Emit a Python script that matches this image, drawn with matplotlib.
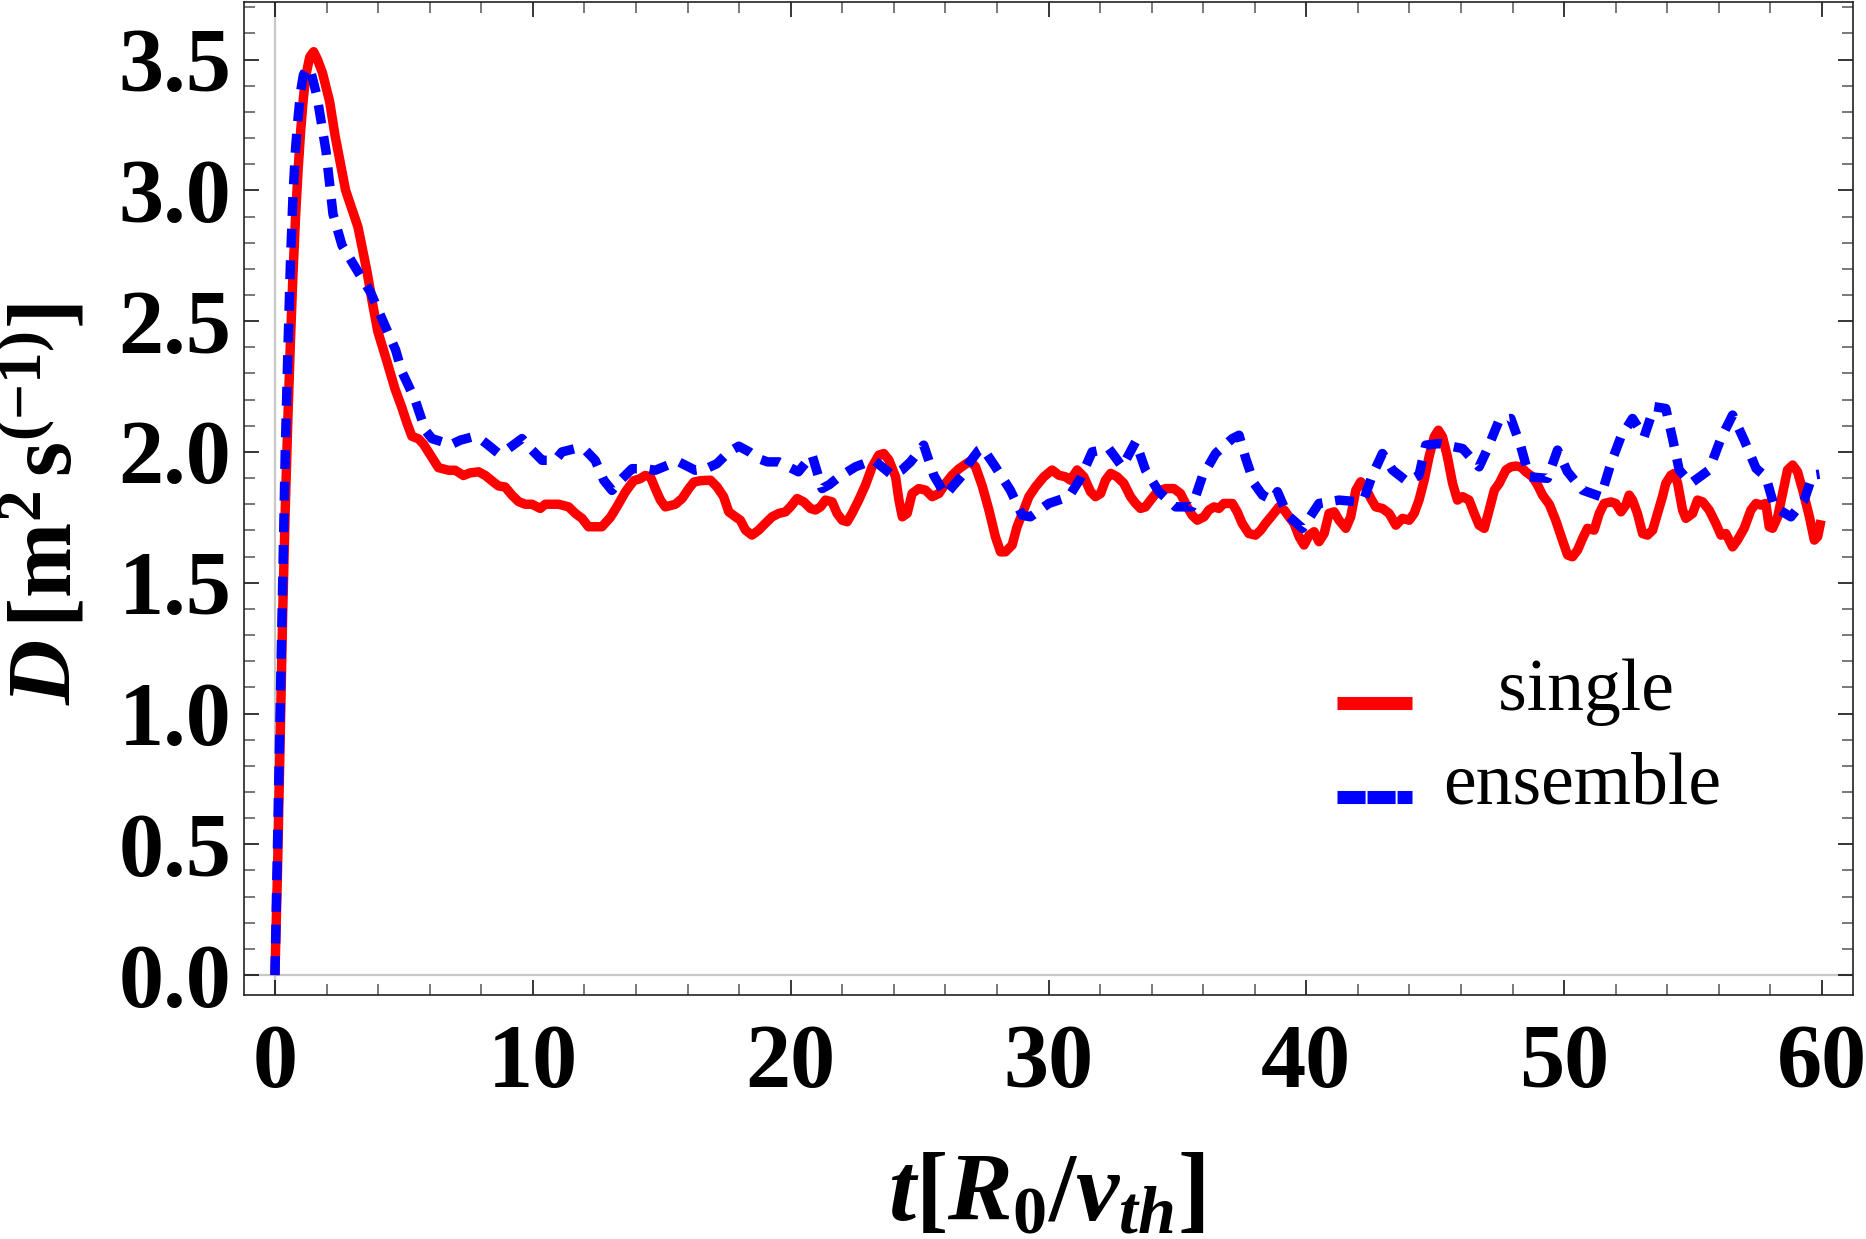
import matplotlib
matplotlib.use("Agg")
import matplotlib.pyplot as plt
from matplotlib.lines import Line2D
from matplotlib.legend_handler import HandlerLine2D
from matplotlib.ticker import MultipleLocator
import numpy as np

plt.rcParams['font.family'] = ['Liberation Serif', 'DejaVu Serif']
plt.rcParams['mathtext.fontset'] = 'custom'
plt.rcParams['mathtext.rm'] = 'Liberation Serif:bold'
plt.rcParams['mathtext.it'] = 'Liberation Serif:italic:bold'
plt.rcParams['mathtext.bf'] = 'Liberation Serif:bold'

# ---------------- data ----------------
t_single = [0.0, 0.1, 0.2, 0.3, 0.4, 0.5, 0.6, 0.7, 0.8, 0.9, 1.0, 1.1, 1.2, 1.35, 1.5, 1.65, 1.84,
            2.12, 2.33, 2.74, 3.22, 3.57, 3.78, 3.99, 4.33, 4.66, 4.92, 5.12, 5.31, 5.57, 5.76, 6.02,
            6.34, 6.73, 6.99, 7.31, 7.57, 7.90, 8.16, 8.41, 8.67, 8.93, 9.19, 9.45, 9.71, 9.97, 10.29,
            10.48, 10.74, 11.0, 11.39, 11.65, 11.91, 12.16, 12.49, 12.68, 13.01, 13.26, 13.59, 13.91,
            14.17, 14.36, 14.56, 14.75, 14.95, 15.14, 15.53, 15.79, 16.05, 16.25, 16.5, 16.89, 17.14,
            17.40, 17.60, 17.86, 18.05, 18.25, 18.50, 18.76, 19.02, 19.28, 19.54, 19.80, 19.99, 20.25,
            20.51, 20.77, 20.96, 21.16, 21.35, 21.61, 21.80, 22.00, 22.19, 22.38, 22.64, 22.90, 23.16,
            23.42, 23.61, 23.81, 24.07, 24.20, 24.33, 24.52, 24.71, 24.97, 25.23, 25.49, 25.75, 26.01,
            26.26, 26.52, 26.78, 26.97, 27.17, 27.43, 27.69, 27.94, 28.14, 28.33, 28.59, 28.78, 29.04,
            29.24, 29.50, 29.82, 30.14, 30.40, 30.66, 30.85, 31.11, 31.37, 31.63, 31.82, 32.02, 32.21,
            32.41, 32.66, 32.92, 33.18, 33.38, 33.57, 33.76, 33.96, 34.22, 34.54, 34.86, 35.12, 35.38,
            35.57, 35.77, 36.03, 36.22, 36.42, 36.61, 36.80, 37.13, 37.32, 37.51, 37.77, 38.03, 38.23,
            38.42, 38.68, 38.94, 39.14, 39.33, 39.52, 39.72, 39.91, 40.11, 40.30, 40.49, 40.69, 40.88,
            41.08, 41.27, 41.53, 41.72, 41.92, 42.11, 42.31, 42.50, 42.69, 42.95, 43.21, 43.47, 43.73,
            43.99, 44.18, 44.37, 44.57, 44.76, 44.96, 45.12, 45.28, 45.47, 45.67, 45.86, 46.06, 46.31,
            46.51, 46.70, 46.90, 47.09, 47.29, 47.48, 47.74, 47.93, 48.13, 48.32, 48.51, 48.77, 48.97,
            49.16, 49.42, 49.67, 49.93, 50.13, 50.32, 50.52, 50.71, 50.90, 51.16, 51.36, 51.55, 51.81,
            52.00, 52.20, 52.39, 52.52, 52.65, 52.84, 53.04, 53.23, 53.43, 53.62, 53.81, 53.94, 54.14,
            54.27, 54.40, 54.59, 54.72, 54.98, 55.17, 55.37, 55.62, 55.88, 56.08, 56.27, 56.53, 56.72,
            56.98, 57.24, 57.44, 57.63, 57.82, 57.95, 58.08, 58.28, 58.47, 58.66, 58.86, 59.05, 59.25,
            59.51, 59.70, 59.83, 59.96]
d_single = [0.0, 0.4, 0.9, 1.38, 1.78, 2.12, 2.42, 2.68, 2.90, 3.08, 3.23, 3.35, 3.44, 3.51, 3.53, 3.50, 3.45,
            3.34, 3.21, 3.00, 2.86, 2.69, 2.57, 2.46, 2.35, 2.24, 2.17, 2.11, 2.06, 2.05, 2.03, 1.99,
            1.94, 1.93, 1.93, 1.91, 1.92, 1.924, 1.91, 1.89, 1.87, 1.866, 1.835, 1.81, 1.80, 1.80, 1.784,
            1.80, 1.80, 1.80, 1.79, 1.765, 1.746, 1.714, 1.714, 1.714, 1.75, 1.79, 1.847, 1.89,
            1.898, 1.91, 1.905, 1.86, 1.816, 1.79, 1.80, 1.822, 1.86, 1.885, 1.89, 1.892, 1.867,
            1.829, 1.771, 1.752, 1.739, 1.701, 1.682, 1.701, 1.727, 1.752, 1.765, 1.771, 1.790, 1.822,
            1.809, 1.784, 1.778, 1.790, 1.816, 1.809, 1.765, 1.739, 1.733, 1.765, 1.816, 1.873, 1.943,
            1.988, 1.994, 1.969, 1.905, 1.816, 1.752, 1.765, 1.841, 1.860, 1.854, 1.829, 1.841, 1.880,
            1.911, 1.935, 1.953, 1.965, 1.943, 1.870, 1.778, 1.676, 1.618, 1.618, 1.644, 1.714, 1.778,
            1.829, 1.867, 1.905, 1.931, 1.911, 1.905, 1.892, 1.931, 1.905, 1.848, 1.829, 1.841, 1.892,
            1.918, 1.905, 1.880, 1.829, 1.803, 1.784, 1.790, 1.816, 1.848, 1.860, 1.860, 1.841, 1.790,
            1.758, 1.739, 1.752, 1.778, 1.790, 1.784, 1.803, 1.803, 1.771, 1.727, 1.688, 1.682, 1.701,
            1.727, 1.758, 1.790, 1.778, 1.752, 1.727, 1.676, 1.644, 1.682, 1.695, 1.657, 1.688, 1.765,
            1.771, 1.739, 1.708, 1.752, 1.854, 1.886, 1.860, 1.822, 1.790, 1.784, 1.765, 1.720, 1.746,
            1.739, 1.765, 1.816, 1.892, 1.982, 2.058, 2.083, 2.058, 1.982, 1.880, 1.816, 1.829, 1.816,
            1.765, 1.720, 1.708, 1.778, 1.854, 1.880, 1.931, 1.943, 1.946, 1.943, 1.924, 1.905, 1.873,
            1.835, 1.800, 1.739, 1.663, 1.606, 1.599, 1.625, 1.669, 1.708, 1.701, 1.765, 1.803, 1.809,
            1.803, 1.771, 1.797, 1.835, 1.816, 1.765, 1.688, 1.682, 1.701, 1.765, 1.829, 1.880, 1.911,
            1.918, 1.880, 1.778, 1.746, 1.765, 1.816, 1.809, 1.778, 1.727, 1.682, 1.688, 1.637, 1.663,
            1.708, 1.778, 1.803, 1.797, 1.803, 1.714, 1.708, 1.752, 1.841, 1.931, 1.950, 1.924, 1.854,
            1.752, 1.663, 1.676, 1.739]

t_ensemble = [0.0, 0.1, 0.2, 0.3, 0.4, 0.5, 0.6, 0.7, 0.8, 0.9, 1.0, 1.1, 1.25, 1.4, 1.63, 1.98, 2.25,
              2.60, 3.09, 3.71, 4.19, 4.68, 4.92, 5.1, 5.44, 5.83, 6.09, 6.47, 6.79, 7.19, 7.64, 8.03,
              8.35, 8.67, 9.06, 9.58, 9.97, 10.36, 10.87, 11.13, 11.65, 12.04, 12.42, 12.75, 13.07,
              13.46, 13.85, 14.36, 14.75, 15.40, 15.66, 16.30, 16.7, 17.14, 17.6, 17.99, 18.4, 18.74,
              19.1, 19.54, 20.3, 20.6, 20.83, 21.22, 21.50, 21.80, 22.51, 23.22, 23.94, 24.3, 24.65,
              25.16, 25.55, 26.0, 26.3, 26.66, 26.91, 27.3, 27.45, 27.94, 28.52, 28.98, 29.30, 30.01,
              30.79, 31.24, 31.69, 32.34, 32.86, 33.38, 33.76, 34.28, 34.93, 35.57, 35.96, 36.48,
              37.13, 37.39, 37.65, 37.97, 38.3, 38.68, 38.88, 39.27, 39.85, 40.49, 41.27, 42.05,
              42.24, 42.56, 42.95, 43.34, 43.92, 44.37, 44.63, 45.15, 45.41, 46.06, 46.70, 47.03,
              47.48, 47.93, 48.32, 48.64, 49.35, 49.74, 50.13, 50.71, 51.42, 51.81, 52.20, 52.65,
              53.10, 53.49, 53.94, 54.20, 54.46, 54.91, 55.62, 56.08, 56.53, 56.98, 57.44, 57.82,
              58.15, 58.79, 59.31, 59.63, 59.9]
d_ensemble = [0.0, 0.5, 1.0, 1.5, 2.0, 2.38, 2.72, 2.98, 3.16, 3.28, 3.38, 3.44, 3.47, 3.45, 3.36, 3.15, 2.91,
              2.79, 2.71, 2.61, 2.50, 2.39, 2.307, 2.27, 2.198, 2.083, 2.051, 2.039, 2.026, 2.045, 2.057, 2.045,
              2.02, 1.994, 2.013, 2.051, 2.007, 1.968, 1.968, 2.0, 2.013, 2.007, 1.968, 1.892, 1.853,
              1.898, 1.936, 1.936, 1.930, 1.956, 1.962, 1.930, 1.935, 1.955, 2.0, 2.022, 2.0, 1.975,
              1.962, 1.962, 1.924, 1.96, 1.988, 1.86, 1.875, 1.899, 1.943, 1.969, 1.911, 1.93, 1.962,
              2.026, 1.911, 1.835, 1.87, 1.911, 1.956, 2.007, 2.015, 1.943, 1.854, 1.758, 1.752, 1.803,
              1.829, 1.899, 2.0, 2.013, 1.943, 2.039, 1.931, 1.848, 1.790, 1.790, 1.905, 1.994,
              2.051, 2.064, 1.975, 1.880, 1.835, 1.816, 1.848, 1.758, 1.708, 1.803, 1.816, 1.809,
              1.822, 1.911, 1.994, 1.931, 1.886, 1.911, 2.026, 2.032, 2.026, 2.013, 1.943, 2.013,
              2.122, 2.128, 2.020, 1.905, 1.899, 2.007, 1.924, 1.854, 1.829, 1.956, 2.058, 2.128,
              2.058, 2.173, 2.166, 2.052, 1.931, 1.880, 1.931, 2.052, 2.141, 2.045, 1.937, 1.905,
              1.790, 1.752, 1.816, 1.911, 1.915]

x_major = [0, 10, 20, 30, 40, 50, 60]
y_major = [0.0, 0.5, 1.0, 1.5, 2.0, 2.5, 3.0, 3.5]
labels = ["single", "ensemble"]


class LoweredLine(HandlerLine2D):
    """Legend key drawn a little below the label's centre line (as in the original)."""
    def __init__(self, shift=14, **kw):
        super().__init__(**kw)
        self.shift = shift

    def create_artists(self, legend, orig_handle, xdescent, ydescent, width, height,
                       fontsize, trans):
        arts = super().create_artists(legend, orig_handle, xdescent, ydescent, width,
                                      height, fontsize, trans)
        for a in arts:
            if isinstance(a, Line2D):
                a.set_ydata(np.asarray(a.get_ydata(), dtype=float) - self.shift)
        return arts


# ---------------- figure ----------------
W, H = 1866, 1239
fig = plt.figure(figsize=(W / 100, H / 100), dpi=100)
ax = fig.add_axes([244 / W, 1 - 995 / H, (1853 - 244) / W, (995 - 2) / H])

ax.axvline(0, color='#c8c8c8', lw=1.6, zorder=1)
ax.axhline(0, color='#c8c8c8', lw=1.6, zorder=1)

lw = 6.8
ax.plot(t_single, d_single, color='#ff0000', lw=lw, solid_joinstyle='round',
        solid_capstyle='butt', zorder=3)
ax.plot(t_ensemble, d_ensemble, color='#0000ff', lw=lw, linestyle=(0, (2.0, 1.35)),
        dash_capstyle='butt', dash_joinstyle='round', zorder=4)

ax.set_xlim(-1.2, 61.2)
ax.set_ylim(-0.076, 3.72)

ax.set_xticks(x_major)
ax.set_xticklabels([str(v) for v in x_major])
ax.set_yticks(y_major)
ax.set_yticklabels([f"{v:.1f}" for v in y_major])
ax.xaxis.set_minor_locator(MultipleLocator(2))
ax.yaxis.set_minor_locator(MultipleLocator(0.1))

for lab in ax.get_xticklabels() + ax.get_yticklabels():
    lab.set_fontsize(65)
    lab.set_fontweight('bold')

ax.tick_params(which='both', direction='in', top=True, right=True, width=1.1)
ax.tick_params(which='major', length=10.8, color='black')
ax.tick_params(which='minor', length=7.9, color='#555555')
ax.tick_params(axis='x', which='major', pad=21)
ax.tick_params(axis='y', which='major', pad=9)

for sp in ax.spines.values():
    sp.set_color('#222222')
    sp.set_linewidth(1.2)

fig.text(45 / W, 1 - 504 / H, r'$D\,[\mathrm{m}^{2}\,\mathrm{s}^{(-1)}]$',
         rotation=90, ha='center', va='center', fontsize=65)
fig.text(1046 / W, 1 - 1197 / H, r'$t[R_0/v_{th}]$',
         ha='center', va='center', fontsize=70)

handles = [Line2D([], [], color='#ff0000', lw=9.4, solid_capstyle='butt'),
           Line2D([], [], color='#0000ff', lw=9.4, linestyle=(0, (2.15, 0.15)),
                  dash_capstyle='butt')]
leg = ax.legend(handles, ["   " + labels[0], labels[1]], loc='center',
                bbox_to_anchor=(1529 / W, 1 - 739 / H), bbox_transform=fig.transFigure,
                frameon=False, prop=dict(family='Liberation Serif', size=53),
                handlelength=1.02, handletextpad=0.43, labelspacing=0.36,
                borderpad=0, borderaxespad=0,
                handler_map={Line2D: LoweredLine(shift=14)})

fig.savefig('out.png', dpi=100)
